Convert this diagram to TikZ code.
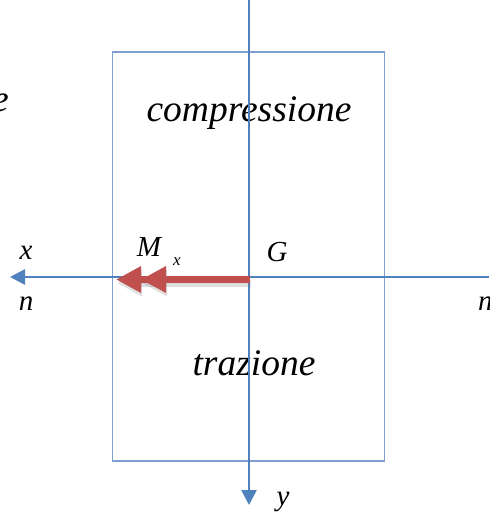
\documentclass[tikz,border=0pt]{standalone}
\usepackage{fontspec}
\setmainfont{Liberation Serif}
\usetikzlibrary{arrows.meta}
\definecolor{axblue}{HTML}{4F81BD}
\definecolor{rectblue}{HTML}{7E9FCF}
\definecolor{mred}{HTML}{C0504D}
\tikzset{
  axis/.style={draw=axblue, line width=2.6pt, -{Triangle[length=15pt,width=15pt]}},
  bigtxt/.style={font=\fontsize{37.5}{42}\selectfont\itshape, inner sep=0pt},
  lbl/.style={font=\fontsize{29}{33}\selectfont\itshape, inner sep=0pt},
  moment/.style={line width=7pt, -{Triangle[length=25pt,width=25pt,sep=0pt]Triangle[length=25pt,width=25pt,sep=0pt]}},
}
\begin{document}
\begin{tikzpicture}[x=1pt,y=-1pt]
\useasboundingbox (0,0) rectangle (489,513);
% section rectangle
\node (sec) [draw=rectblue, line width=1.1pt, minimum width=272pt, minimum height=409pt, inner sep=0pt] at (248.5,256.5) {};
% texts
\node (comp) [bigtxt, anchor=base] at (249,122) {compressione};
\node (traz) [bigtxt, anchor=base] at (254,375) {trazione};
\node (ecut) [bigtxt, anchor=base east] at (9,112) {e};
\node (ncut) [lbl, anchor=base west] at (478,310) {n};
\node (xl) [lbl, anchor=base] at (26,259) {x};
\node (nl) [lbl, anchor=base] at (26,310) {n};
\node (M) [lbl, anchor=base] at (149,256) {M};
\node (Mx) [lbl, font=\fontsize{17}{20}\selectfont\itshape, anchor=base] at (177,265) {x};
\node (G) [lbl, anchor=base] at (277,261) {G};
\node (yl) [lbl, anchor=base] at (283,505) {y};
% axes
\coordinate (xr) at (489,277);
\coordinate (xtip) at (10,277);
\coordinate (ytop) at (249,0);
\coordinate (ytip) at (249,505);
\draw[axis] (xr) -- (xtip);
\draw[axis] (ytop) -- (ytip);
% bending moment vector
\coordinate (m0) at (250,279.5);
\coordinate (m1) at (116,279.5);
\coordinate (s0) at (251,283);
\coordinate (s1) at (117,283);
\draw[moment, draw=black!50, fill=black!50, opacity=0.25] (s0) -- (s1);
\draw[moment, draw=mred, fill=mred] (m0) -- (m1);
\end{tikzpicture}
\end{document}
